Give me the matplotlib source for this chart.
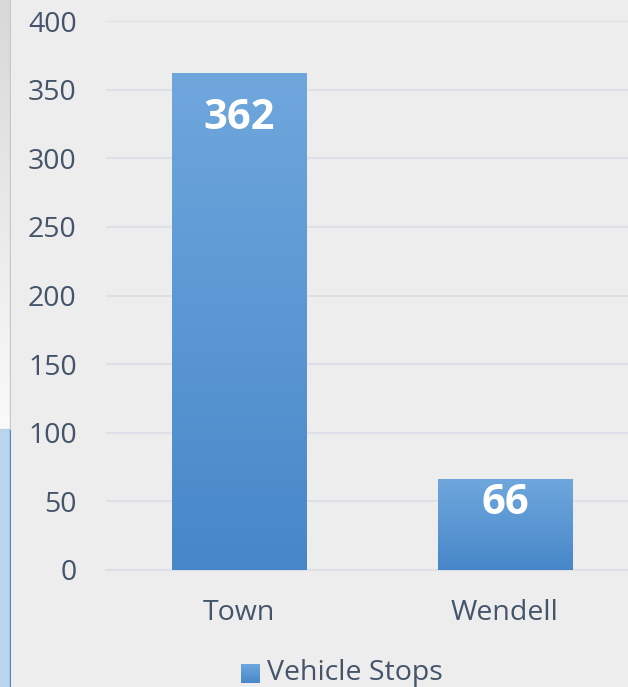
import numpy as np
import matplotlib
matplotlib.use("Agg")
import matplotlib.pyplot as plt
from matplotlib.patches import Rectangle
from matplotlib.colors import LinearSegmentedColormap

categories = ["Town", "Wendell"]
stops = [362, 66]
series_name = "Vehicle Stops"
yticks = [0, 50, 100, 150, 200, 250, 300, 350, 400]

BG = "#ededed"
TEXT = "#44546a"
GRID = "#dde1e7"
blue_grad = LinearSegmentedColormap.from_list("bar", ["#4787c9", "#6fa7dd"])

plt.rcParams["font.family"] = ["Open Sans", "DejaVu Sans"]

fig = plt.figure(figsize=(6.28, 6.87), dpi=100, facecolor=BG)
ax = fig.add_axes([106 / 628, 117 / 687, 532 / 628, 549 / 687])
ax.set_facecolor(BG)

grad = np.linspace(0, 1, 256).reshape(-1, 1)
x = np.arange(len(categories))
bars = ax.bar(x, stops, width=0.504, color="none", zorder=3)
for b in bars:
    x0, y0 = b.get_x(), b.get_y()
    w, h = b.get_width(), b.get_height()
    im = ax.imshow(grad, cmap=blue_grad, origin="lower", aspect="auto",
                   extent=[x0, x0 + w, y0, y0 + h], zorder=3)
    im.set_clip_path(b)

# value labels inside the top of each bar
label_pad = [-25, -4]
for b, v, pad in zip(bars, stops, label_pad):
    ax.annotate(str(v), (b.get_x() + b.get_width() / 2, v),
                xytext=(0, pad * 0.72), textcoords="offset points",
                ha="center", va="top", color="white", fontsize=30,
                fontweight="bold", zorder=4)

ax.set_xlim(-0.5, 1.5)
ax.set_ylim(0, 400)
ax.set_yticks(yticks)
ax.set_xticks(x)
ax.set_xticklabels(categories)
ax.tick_params(axis="y", length=0, pad=21, labelsize=20.5, labelcolor=TEXT)
ax.tick_params(axis="x", length=0, pad=21, labelsize=20.5, labelcolor=TEXT)
ax.grid(axis="y", color=GRID, linewidth=1.5, zorder=0)
ax.set_axisbelow(True)
for s in ax.spines.values():
    s.set_visible(False)
ax.spines["bottom"].set_visible(True)
ax.spines["bottom"].set_color(GRID)
ax.spines["bottom"].set_linewidth(1.5)

# legend entry below the plot
lax = fig.add_axes([241 / 628, 4 / 687, 19 / 628, 19 / 687])
lax.imshow(grad, cmap=blue_grad, origin="lower", aspect="auto", extent=[0, 1, 0, 1])
lax.axis("off")
fig.text(267 / 628, 14 / 687, series_name, ha="left", va="center",
         fontsize=20.5, color=TEXT)

# window edge on the left side
side = fig.add_axes([0, 0, 11 / 628, 1])
side.set_xlim(0, 11)
side.set_ylim(0, 687)
side.axis("off")
fade = np.linspace(0, 1, 256).reshape(-1, 1)
side.imshow(fade, cmap=LinearSegmentedColormap.from_list("g", ["#fafafa", "#d8d8d8"]),
            origin="lower", aspect="auto", extent=[0, 10, 258, 687])
side.add_patch(Rectangle((0, 0), 10, 258, color="#bad4ee"))
side.add_patch(Rectangle((9.5, 0), 1.5, 258, color="#4a86c6"))
side.add_patch(Rectangle((9.8, 258), 1.2, 429, color="#c3c8d0"))

fig.savefig("out.png", dpi=100, facecolor=BG)
